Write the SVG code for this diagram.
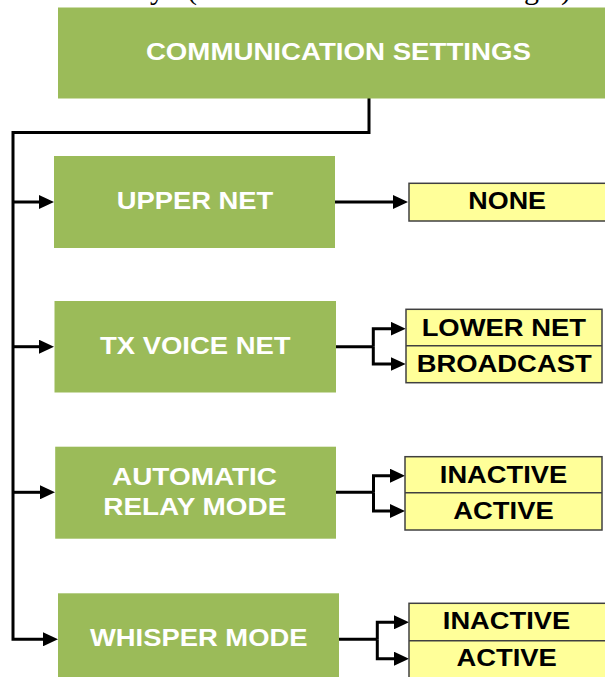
<svg xmlns="http://www.w3.org/2000/svg" width="605" height="677" viewBox="0 0 605 677">
<style>
.g{fill:#9BBB59;}
.y{fill:#FFFF99;stroke:#404040;stroke-width:1.5;}
.div{stroke:#404040;stroke-width:1.5;}
.w{fill:#FFFFFF;font-family:"Liberation Sans",Arial,sans-serif;font-weight:bold;font-size:23px;text-anchor:middle;}
.k{fill:#000000;font-family:"Liberation Sans",Arial,sans-serif;font-weight:bold;font-size:23px;text-anchor:middle;}
.c{fill:none;stroke:#000000;stroke-width:3;}
.a{fill:none;stroke:#000000;stroke-width:3;marker-end:url(#ah);}
.cap{fill:#000000;font-family:"Liberation Serif","Times New Roman",serif;font-size:30px;}
</style>
<defs>
<marker id="ah" markerUnits="userSpaceOnUse" markerWidth="15" markerHeight="14" refX="5" refY="7" orient="auto" viewBox="0 0 15 14">
<path d="M0,0 L15,7 L0,14 z" fill="#000000"/>
</marker>
</defs>
<rect width="605" height="677" fill="#FFFFFF"/>
<text class="cap" y="-1"><tspan x="150">y</tspan><tspan x="187">(</tspan><tspan x="524">g</tspan><tspan x="561">)</tspan></text>

<g id="connectors">
<polyline class="c" points="369,98 369,132.5 13,132.5 13,639.3 48,639.3"/>
<line class="a" x1="13" y1="202" x2="44" y2="202"/>
<line class="a" x1="13" y1="346.7" x2="44" y2="346.7"/>
<line class="a" x1="13" y1="492.3" x2="45" y2="492.3"/>
<line class="a" x1="46" y1="639.3" x2="48" y2="639.3"/>
<line class="a" x1="335" y1="202" x2="398" y2="202"/>
<polyline class="c" points="335,346.7 373.3,346.7"/>
<polyline class="a" points="373.3,346.7 373.3,328.7 395.7,328.7"/>
<polyline class="a" points="373.3,346.7 373.3,364 395.7,364"/>
<polyline class="c" points="336,492.3 373.5,492.3"/>
<polyline class="a" points="373.5,492.3 373.5,475.7 395,475.7"/>
<polyline class="a" points="373.5,492.3 373.5,511 395,511"/>
<polyline class="c" points="339,639.3 377.3,639.3"/>
<polyline class="a" points="377.3,639.3 377.3,622.3 399,622.3"/>
<polyline class="a" points="377.3,639.3 377.3,658.7 399,658.7"/>
</g>

<g id="comm-settings">
<rect class="g" x="58" y="7.5" width="552" height="91"/>
<text class="w" x="338.4" y="60" textLength="385" lengthAdjust="spacingAndGlyphs">COMMUNICATION SETTINGS</text>
</g>
<g id="upper-net">
<rect class="g" x="54" y="156" width="281" height="92"/>
<text class="w" x="195" y="209.3" textLength="156.6" lengthAdjust="spacingAndGlyphs">UPPER NET</text>
</g>
<g id="tx-voice-net">
<rect class="g" x="54.5" y="301" width="281.5" height="91.5"/>
<text class="w" x="195.3" y="354" textLength="190.7" lengthAdjust="spacingAndGlyphs">TX VOICE NET</text>
</g>
<g id="auto-relay">
<rect class="g" x="55.2" y="446.7" width="280.8" height="92"/>
<text class="w" x="194.5" y="485" textLength="165" lengthAdjust="spacingAndGlyphs">AUTOMATIC</text>
<text class="w" x="194.8" y="515" textLength="183" lengthAdjust="spacingAndGlyphs">RELAY MODE</text>
</g>
<g id="whisper">
<rect class="g" x="58" y="593.3" width="281" height="90"/>
<text class="w" x="198.7" y="646" textLength="217.6" lengthAdjust="spacingAndGlyphs">WHISPER MODE</text>
</g>

<g id="none">
<rect class="y" x="409" y="183.3" width="200" height="37.7"/>
<text class="k" x="507.2" y="209" textLength="77.7" lengthAdjust="spacingAndGlyphs">NONE</text>
</g>
<g id="tx-options">
<rect class="y" x="406" y="309.3" width="196" height="73.4"/>
<line class="div" x1="406" y1="345.7" x2="602" y2="345.7"/>
<text class="k" x="503.8" y="335.7" textLength="164.3" lengthAdjust="spacingAndGlyphs">LOWER NET</text>
<text class="k" x="504.2" y="371.7" textLength="175" lengthAdjust="spacingAndGlyphs">BROADCAST</text>
</g>
<g id="relay-options">
<rect class="y" x="405" y="456.7" width="197" height="73.3"/>
<line class="div" x1="405" y1="492.7" x2="602" y2="492.7"/>
<text class="k" x="503.5" y="483.3" textLength="127.3" lengthAdjust="spacingAndGlyphs">INACTIVE</text>
<text class="k" x="503.5" y="519.3" textLength="100.3" lengthAdjust="spacingAndGlyphs">ACTIVE</text>
</g>
<g id="whisper-options">
<rect class="y" x="409" y="603.3" width="200" height="80"/>
<line class="div" x1="409" y1="640.7" x2="609" y2="640.7"/>
<text class="k" x="506.5" y="629.3" textLength="127.3" lengthAdjust="spacingAndGlyphs">INACTIVE</text>
<text class="k" x="506.6" y="666" textLength="100.3" lengthAdjust="spacingAndGlyphs">ACTIVE</text>
</g>
</svg>
